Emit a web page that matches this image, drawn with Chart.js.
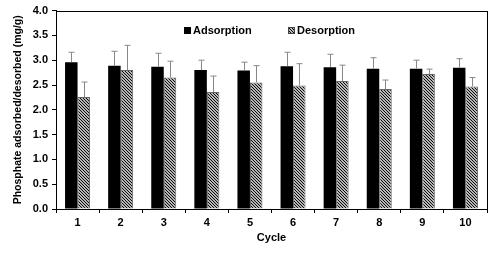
<!DOCTYPE html>
<html>
<head>
<meta charset="utf-8">
<script src="https://cdn.jsdelivr.net/npm/chart.js@4.4.0/dist/chart.umd.min.js"></script>
<style>
  html, body { margin: 0; padding: 0; background: #fff; }
  #wrap { position: relative; width: 500px; height: 253px; }
</style>
</head>
<body>
<div id="wrap"><canvas id="chart"></canvas></div>
<script>
const cycles = ["1", "2", "3", "4", "5", "6", "7", "8", "9", "10"];
const adsorption = [2.96, 2.89, 2.87, 2.80, 2.79, 2.88, 2.86, 2.83, 2.83, 2.85];
const adsorptionErr = [0.20, 0.29, 0.27, 0.20, 0.17, 0.28, 0.26, 0.22, 0.17, 0.18];
const desorption = [2.26, 2.80, 2.65, 2.36, 2.55, 2.49, 2.58, 2.42, 2.72, 2.47];
const desorptionErr = [0.30, 0.50, 0.33, 0.32, 0.34, 0.44, 0.32, 0.18, 0.10, 0.18];

const FONT = "Arial, 'Liberation Sans', sans-serif";

// diagonal hatch for the desorption bars
function makeHatch() {
  const n = 3;
  const c = document.createElement("canvas");
  c.width = n;
  c.height = n;
  const g = c.getContext("2d");
  g.fillStyle = "#fff";
  g.fillRect(0, 0, n, n);
  g.strokeStyle = "#000";
  g.lineWidth = 1.1;
  g.beginPath();
  g.moveTo(-1, -1); g.lineTo(n + 1, n + 1);
  g.moveTo(-1, n - 1); g.lineTo(1, n + 1);
  g.moveTo(n - 1, -1); g.lineTo(n + 1, 1);
  g.stroke();
  return g.createPattern(c, "repeat");
}
const hatch = makeHatch();

const errors = [adsorptionErr, desorptionErr];

const extras = {
  id: "extras",
  afterDatasetsDraw(chart) {
    const ctx = chart.ctx;
    const y = chart.scales.y;
    ctx.save();
    ctx.strokeStyle = "#888";
    ctx.lineWidth = 1;
    chart.data.datasets.forEach((ds, i) => {
      chart.getDatasetMeta(i).data.forEach((bar, j) => {
        const x = Math.round(bar.x) + 0.5;
        const top = y.getPixelForValue(ds.data[j] + errors[i][j]);
        ctx.beginPath();
        ctx.moveTo(x, bar.y);
        ctx.lineTo(x, top);
        ctx.moveTo(x - 3, top);
        ctx.lineTo(x + 3, top);
        ctx.stroke();
      });
    });
    ctx.restore();
  },
  afterDraw(chart) {
    const ctx = chart.ctx;
    const a = chart.chartArea;
    ctx.save();
    ctx.strokeStyle = "#000";
    ctx.lineWidth = 1;
    ctx.strokeRect(Math.round(a.left) + 0.5, Math.round(a.top) + 0.5,
      Math.round(a.right - a.left), Math.round(a.bottom - a.top));

    // legend inside the plot
    const items = [
      { x: 184, fill: "#000" },
      { x: 288, fill: hatch }
    ];
    ctx.font = "bold 11px " + FONT;
    ctx.textBaseline = "middle";
    chart.data.datasets.forEach((ds, i) => {
      const it = items[i];
      ctx.fillStyle = it.fill;
      ctx.fillRect(it.x, 27, 7, 7);
      if (i === 1) {
        ctx.strokeStyle = "#444";
        ctx.strokeRect(it.x + 0.5, 27.5, 6, 6);
      }
      ctx.fillStyle = "#000";
      ctx.fillText(ds.label, it.x + 9, 31);
    });
    ctx.restore();
  }
};

new Chart(document.getElementById("chart"), {
  type: "bar",
  data: {
    labels: cycles,
    datasets: [
      {
        label: "Adsorption",
        data: adsorption,
        backgroundColor: "#000",
        borderWidth: 0
      },
      {
        label: "Desorption",
        data: desorption,
        backgroundColor: hatch,
        borderColor: "#666",
        borderWidth: 1
      }
    ]
  },
  options: {
    responsive: true,
    maintainAspectRatio: false,
    animation: false,
    categoryPercentage: 0.58,
    barPercentage: 1.0,
    layout: { padding: { top: 10, right: 13, left: 0, bottom: 0 } },
    plugins: {
      legend: { display: false },
      tooltip: { enabled: false }
    },
    scales: {
      x: {
        grid: { display: true, drawOnChartArea: false, color: "#000", tickLength: 4, offset: true },
        border: { color: "#000", width: 1 },
        ticks: { color: "#000", padding: 3, font: { family: FONT, size: 11, weight: "bold" } },
        title: {
          display: true,
          text: "Cycle",
          color: "#000",
          padding: { top: 0, bottom: 8 },
          font: { family: FONT, size: 11, weight: "bold" }
        },
        afterFit: s => { s.height = 44; }
      },
      y: {
        min: 0,
        max: 4,
        grid: { display: true, drawOnChartArea: false, color: "#000", tickLength: 4 },
        border: { color: "#000", width: 1 },
        ticks: {
          stepSize: 0.5,
          color: "#000",
          padding: 4,
          font: { family: FONT, size: 11, weight: "bold" },
          callback: v => v.toFixed(1)
        },
        title: {
          display: true,
          text: "Phosphate adsorbed/desorbed (mg/g)",
          color: "#000",
          padding: { top: 12, bottom: 0 },
          font: { family: FONT, size: 10.5, weight: "bold" }
        },
        afterFit: s => { s.width = 56; }
      }
    }
  },
  plugins: [extras]
});
</script>
</body>
</html>
